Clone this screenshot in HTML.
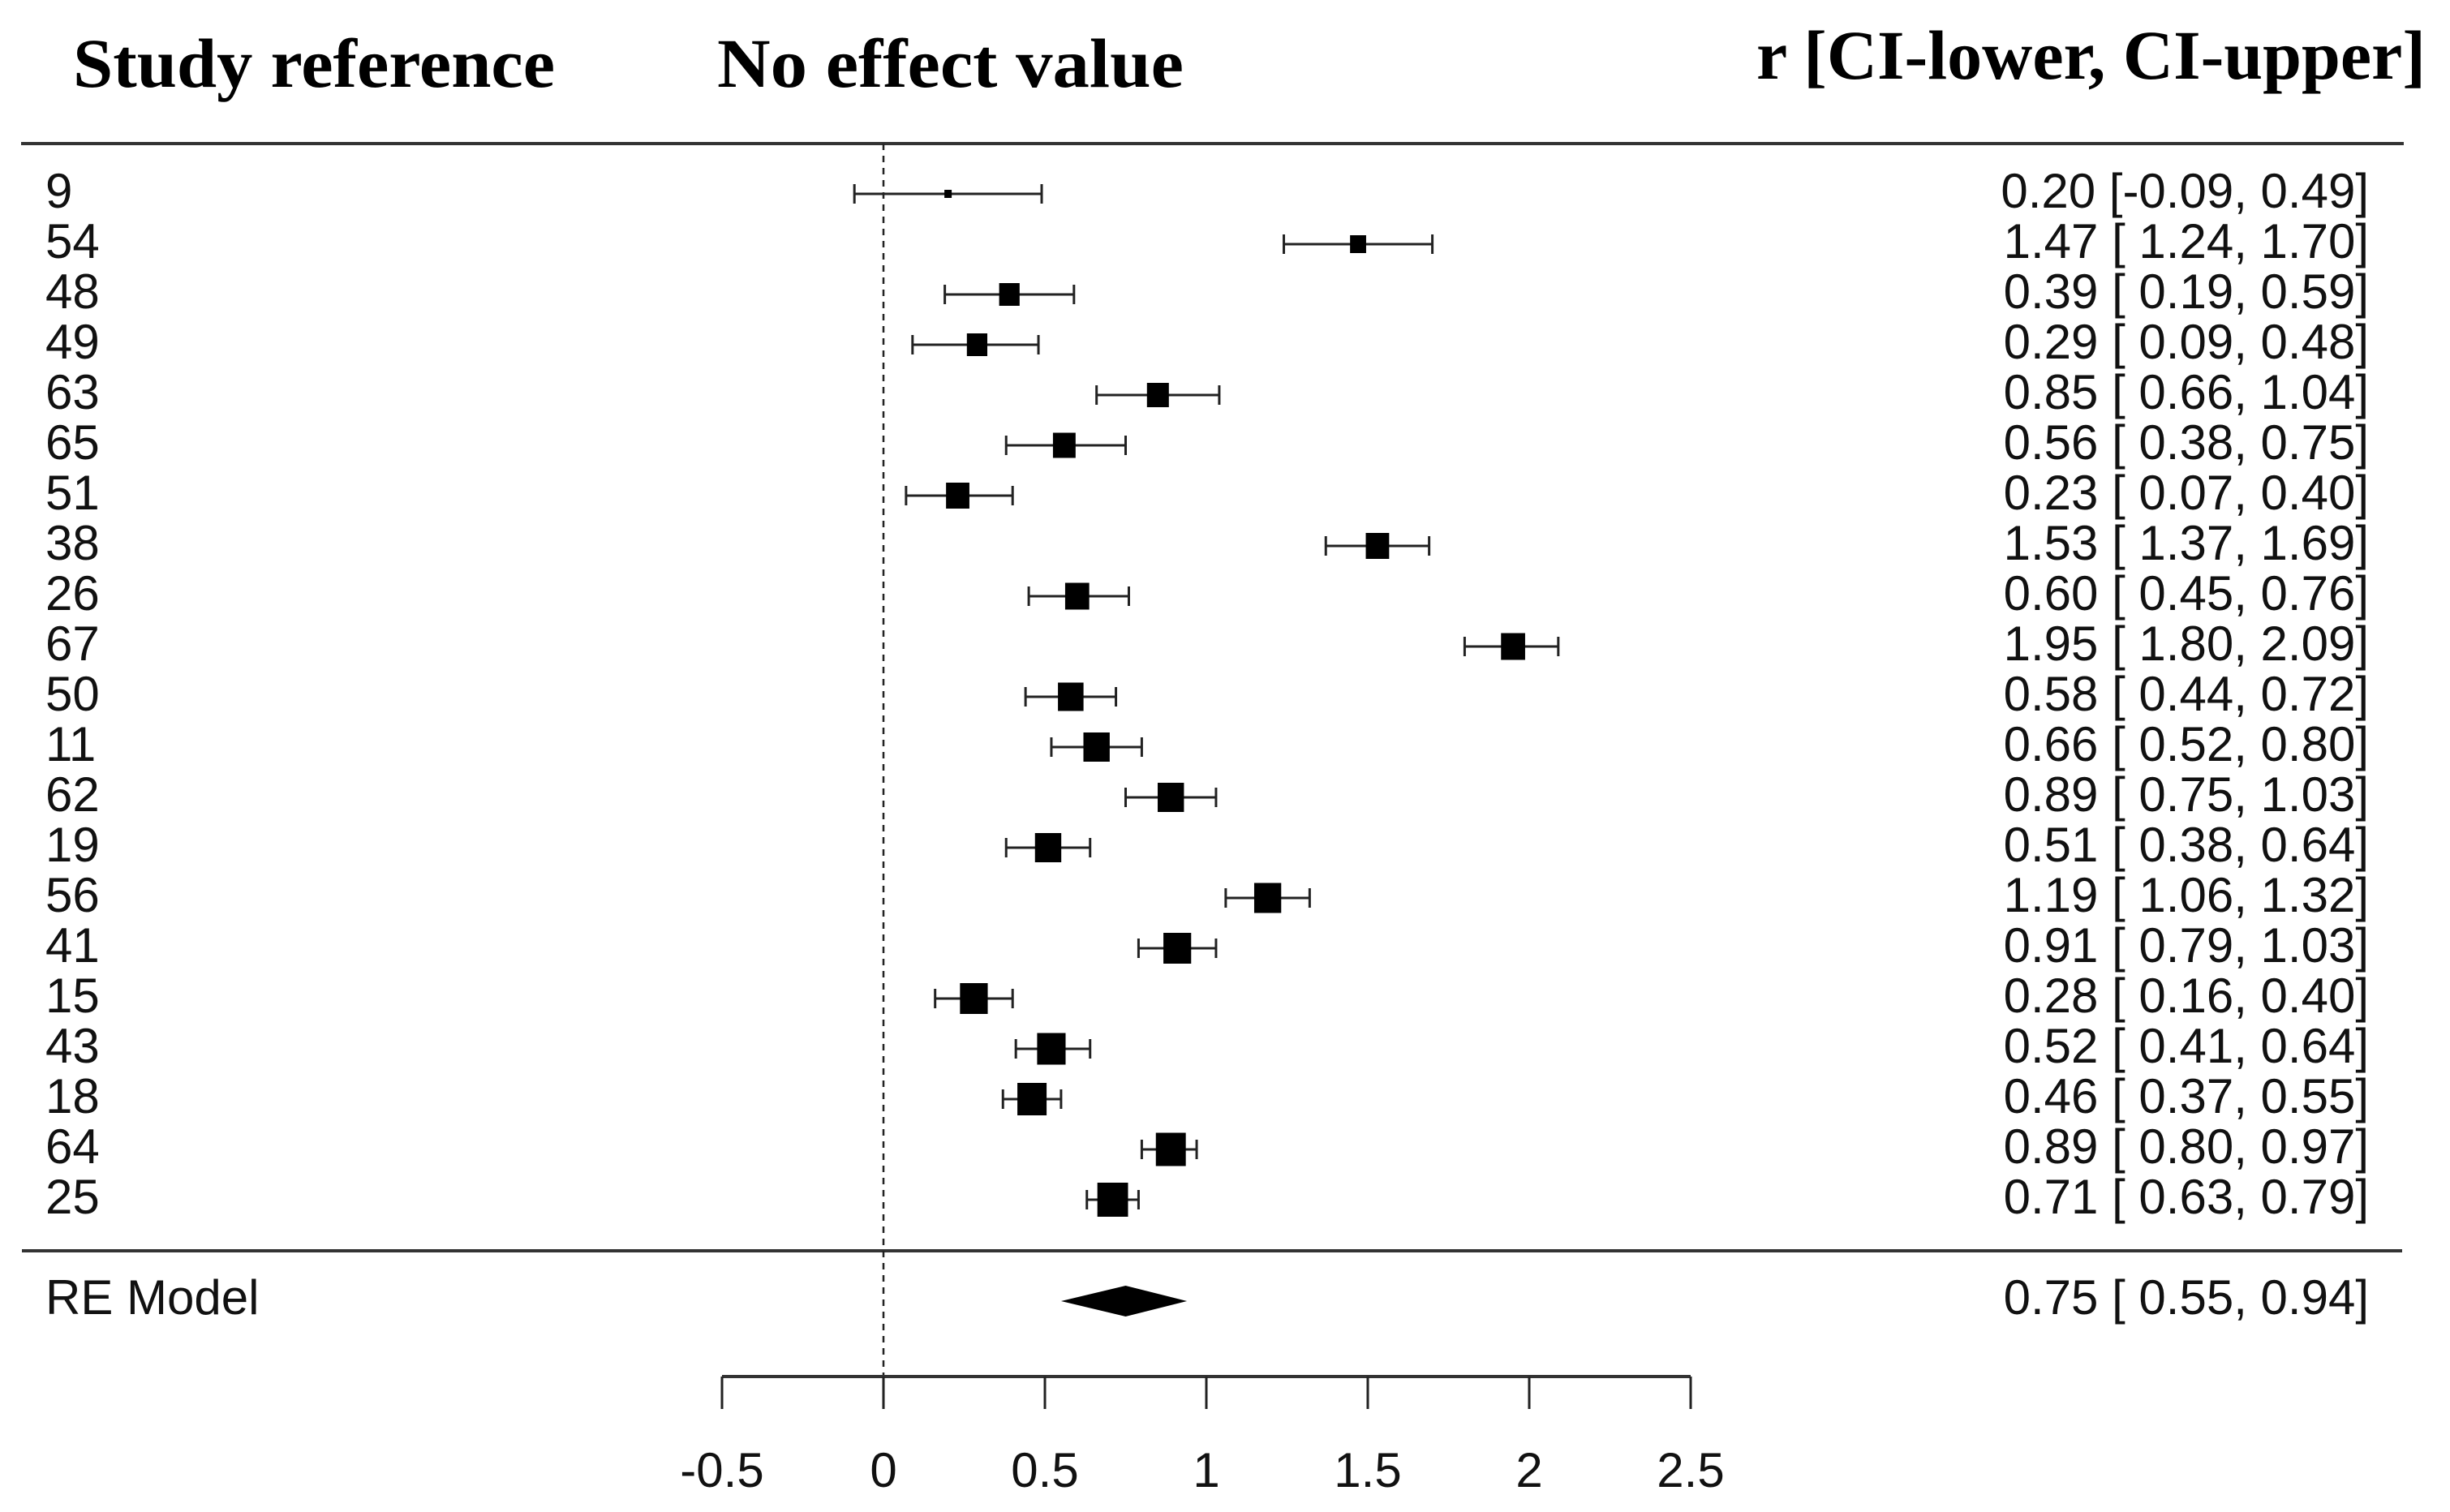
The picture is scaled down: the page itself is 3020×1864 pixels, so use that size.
<!DOCTYPE html>
<html><head><meta charset="utf-8"><style>
html,body{margin:0;padding:0;background:#fff;}
svg{display:block;}
.lab{font-family:"Liberation Sans",Arial,sans-serif;font-size:60px;fill:#111;}
.hdr{font-family:"Liberation Serif",serif;font-weight:bold;font-size:86px;fill:#000;}
</style></head><body>
<svg id="chart" width="3020" height="1864" viewBox="0 0 3020 1864" xmlns="http://www.w3.org/2000/svg">
<text class="hdr" x="90" y="107" textLength="594" lengthAdjust="spacingAndGlyphs">Study reference</text>
<text class="hdr" x="884" y="107" textLength="575" lengthAdjust="spacingAndGlyphs">No effect value</text>
<text class="hdr" x="2165" y="97" textLength="825" lengthAdjust="spacingAndGlyphs">r [CI-lower, CI-upper]</text>
<line x1="26" y1="177" x2="2963" y2="177" stroke="#333" stroke-width="4"/>
<line x1="27" y1="1542" x2="2961" y2="1542" stroke="#333" stroke-width="4"/>
<g id="marks"></g>
</svg>
<script>
const studies = ["9","54","48","49","63","65","51","38","26","67","50","11","62","19","56","41","15","43","18","64","25"];
const estimates = [0.20,1.47,0.39,0.29,0.85,0.56,0.23,1.53,0.60,1.95,0.58,0.66,0.89,0.51,1.19,0.91,0.28,0.52,0.46,0.89,0.71];
const ciLower = [-0.09,1.24,0.19,0.09,0.66,0.38,0.07,1.37,0.45,1.80,0.44,0.52,0.75,0.38,1.06,0.79,0.16,0.41,0.37,0.80,0.63];
const ciUpper = [0.49,1.70,0.59,0.48,1.04,0.75,0.40,1.69,0.76,2.09,0.72,0.80,1.03,0.64,1.32,1.03,0.40,0.64,0.55,0.97,0.79];
const weights = [10,22,28,28,30,31,32,32,33,33,35,36,36,36,37,38,38,39,40,41,42];
const reModel = [0.75,0.55,0.94];
const ticks = [-0.5,0,0.5,1,1.5,2,2.5];
const tickLabels = ["-0.5","0","0.5","1","1.5","2","2.5"];

const NS="http://www.w3.org/2000/svg";
const g=document.getElementById('marks');
const x=v=>1089+v*398;
const y=i=>239+i*62;
function mk(tag,at){const e=document.createElementNS(NS,tag);for(const k in at)e.setAttribute(k,at[k]);g.appendChild(e);return e;}
const f=v=>(v<0?"-":" ")+Math.abs(v).toFixed(2);

let d=mk('line',{x1:x(0),y1:177,x2:x(0),y2:1697,stroke:'#222','stroke-width':2.5,'stroke-dasharray':'8,7'});



studies.forEach((s,i)=>{
  const yy=y(i);
  let t=mk('text',{class:'lab',x:56,y:yy+17});t.textContent=s;
  
  
  let l=mk('line',{x1:x(ciLower[i]),y1:yy,x2:x(ciUpper[i]),y2:yy,stroke:'#222','stroke-width':3});
  
  
  let c1=mk('line',{x1:x(ciLower[i]),y1:yy-12,x2:x(ciLower[i]),y2:yy+12,stroke:'#222','stroke-width':3});
  
  
  let c2=mk('line',{x1:x(ciUpper[i]),y1:yy-12,x2:x(ciUpper[i]),y2:yy+12,stroke:'#222','stroke-width':3});
  
  
  const w=weights[i];
  let r=mk('rect',{x:x(estimates[i])-w*0.45,y:yy-w/2,width:w*0.9,height:w,fill:'#000'});
  
  
  let v=mk('text',{class:'lab',x:2920,y:yy+17,'text-anchor':'end','xml:space':'preserve'});
  v.style.whiteSpace='pre';
  v.textContent=estimates[i].toFixed(2)+" ["+f(ciLower[i])+", "+ciUpper[i].toFixed(2)+"]";
  
  
});

const ry=1604;
let rl=mk('text',{class:'lab',x:56,y:1620});rl.textContent="RE Model";


let dm=mk('polygon',{points:`${x(reModel[1])},${ry} ${x(reModel[0])},${ry-19} ${x(reModel[2])},${ry} ${x(reModel[0])},${ry+19}`,fill:'#000'});


let rv=mk('text',{class:'lab',x:2920,y:1620,'text-anchor':'end'});
rv.style.whiteSpace='pre';
rv.textContent=reModel[0].toFixed(2)+" ["+f(reModel[1])+", "+reModel[2].toFixed(2)+"]";



let ax=mk('line',{x1:x(ticks[0]),y1:1697,x2:x(ticks[ticks.length-1]),y2:1697,stroke:'#333','stroke-width':4});


ticks.forEach((tv,i)=>{
  let tk=mk('line',{x1:x(tv),y1:1697,x2:x(tv),y2:1737,stroke:'#222','stroke-width':3});
  
  
  let tl=mk('text',{class:'lab',x:x(tv),y:1833,'text-anchor':'middle'});
  tl.textContent=tickLabels[i];
  
  
});
</script>
</body></html>
